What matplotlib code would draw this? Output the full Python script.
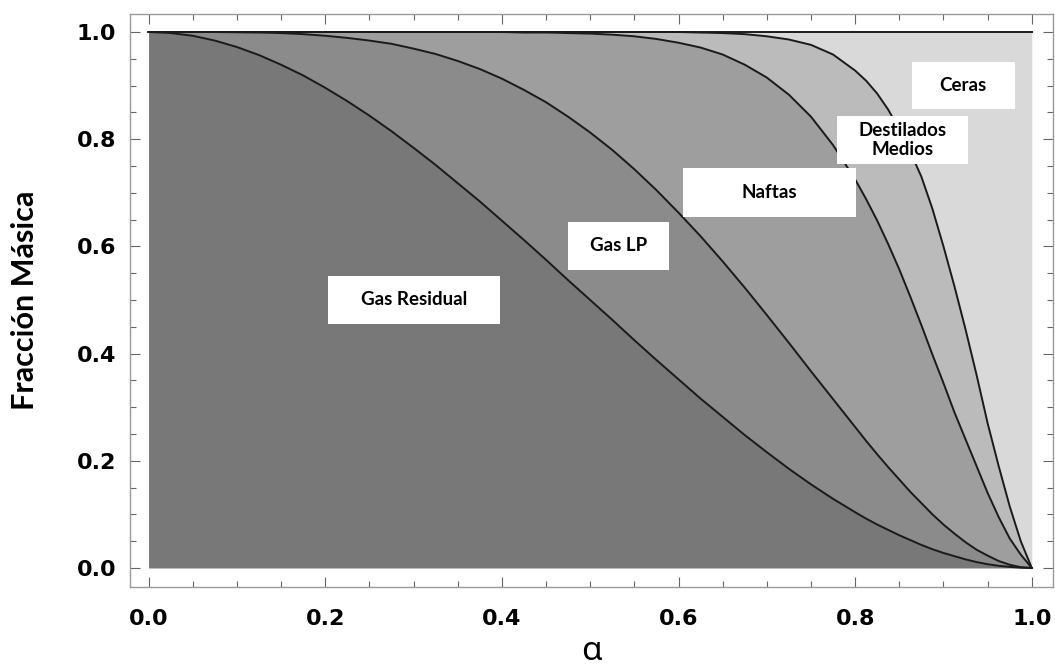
import numpy as np
import matplotlib.pyplot as plt
from matplotlib.patches import Rectangle
from matplotlib.ticker import MultipleLocator

# alpha values (x axis) and cumulative mass fraction boundaries
alpha = [0.0, 0.025, 0.05, 0.075, 0.1, 0.125, 0.15, 0.175, 0.2, 0.225, 0.25,
         0.275, 0.3, 0.325, 0.35, 0.375, 0.4, 0.425, 0.45, 0.475, 0.5, 0.525,
         0.55, 0.575, 0.6, 0.625, 0.65, 0.675, 0.7, 0.725, 0.75, 0.775, 0.8,
         0.8125, 0.825, 0.8375, 0.85, 0.8625, 0.875, 0.8875, 0.9, 0.9125,
         0.925, 0.9375, 0.95, 0.9625, 0.975, 0.9875, 1.0]

gas_residual = [1.0, 0.998, 0.993, 0.984, 0.972, 0.957, 0.939, 0.919, 0.896, 0.871,
                0.844, 0.815, 0.784, 0.752, 0.718, 0.684, 0.648, 0.612, 0.575, 0.537,
                0.500, 0.463, 0.425, 0.388, 0.352, 0.316, 0.282, 0.248, 0.216, 0.185,
                0.156, 0.129, 0.104,
                0.092, 0.081, 0.071, 0.061, 0.052, 0.043, 0.035, 0.028, 0.022, 0.016,
                0.011, 0.007, 0.004, 0.002, 0.0005, 0.0]

gas_lp = [1.0, 1.0, 1.0, 1.0, 0.9995, 0.999, 0.998, 0.996, 0.993, 0.989,
          0.984, 0.978, 0.969, 0.959, 0.946, 0.931, 0.913, 0.892, 0.869, 0.842,
          0.8125, 0.780, 0.744, 0.705, 0.663, 0.619, 0.572, 0.523, 0.472, 0.420,
          0.367, 0.315, 0.263,
          0.237, 0.212, 0.188, 0.165, 0.142, 0.121, 0.100, 0.081, 0.064, 0.048,
          0.034, 0.023, 0.013, 0.006, 0.0015, 0.0]

naftas = [1.0, 1.0, 1.0, 1.0, 1.0, 1.0, 1.0, 1.0, 1.0, 1.0,
          1.0, 1.0, 1.0, 1.0, 1.0, 1.0, 1.0, 0.999, 0.999, 0.998,
          0.997, 0.995, 0.992, 0.987, 0.980, 0.971, 0.958, 0.939, 0.915, 0.883,
          0.842, 0.789, 0.725,
          0.688, 0.648, 0.604, 0.557, 0.506, 0.453, 0.398, 0.345, 0.290, 0.240,
          0.190, 0.140, 0.095, 0.055, 0.025, 0.0]

destilados = [1.0, 1.0, 1.0, 1.0, 1.0, 1.0, 1.0, 1.0, 1.0, 1.0,
              1.0, 1.0, 1.0, 1.0, 1.0, 1.0, 1.0, 1.0, 1.0, 1.0,
              1.0, 1.0, 1.0, 1.0, 1.0, 0.999, 0.998, 0.996, 0.992, 0.986,
              0.976, 0.958, 0.928,
              0.909, 0.885, 0.855, 0.818, 0.776, 0.730, 0.670, 0.600, 0.525, 0.445,
              0.360, 0.270, 0.190, 0.115, 0.050, 0.0]

total = [1.0] * len(alpha)

boundaries = [gas_residual, gas_lp, naftas, destilados, total]
fills = ['#787878', '#8b8b8b', '#9e9e9e', '#bbbbbb', '#d9d9d9']

# region labels: text, box (x0, y0, x1, y1) in data units
labels = [
    ('Gas Residual', (0.203, 0.455, 0.398, 0.545)),
    ('Gas LP', (0.475, 0.556, 0.589, 0.646)),
    ('Naftas', (0.605, 0.655, 0.801, 0.746)),
    ('Destilados\nMedios', (0.779, 0.754, 0.928, 0.843)),
    ('Ceras', (0.864, 0.856, 0.981, 0.944)),
]

fig = plt.figure(figsize=(10.55, 6.66), dpi=100)
ax = fig.add_axes([130 / 1055, 1 - 587 / 666, (1053 - 130) / 1055, (587 - 14) / 666])

lower = [0.0] * len(alpha)
for upper, col in zip(boundaries, fills):
    ax.fill_between(alpha, lower, upper, color=col, linewidth=0)
    lower = upper

for b in boundaries:
    ax.plot(alpha, b, color='#1a1a1a', lw=1.4, solid_joinstyle='round')

for txt, (x0, y0, x1, y1) in labels:
    ax.add_patch(Rectangle((x0, y0), x1 - x0, y1 - y0, facecolor='white',
                           edgecolor='none', zorder=3))
    ax.text((x0 + x1) / 2, (y0 + y1) / 2, txt, ha='center', va='center',
            fontsize=13.5, fontweight='bold', family='Lato', linespacing=1.15,
            zorder=4)

ax.set_xlim(-0.021, 1.024)
ax.set_ylim(-0.0355, 1.0336)

ax.xaxis.set_major_locator(MultipleLocator(0.2))
ax.xaxis.set_minor_locator(MultipleLocator(0.05))
ax.yaxis.set_major_locator(MultipleLocator(0.2))
ax.yaxis.set_minor_locator(MultipleLocator(0.05))
ax.xaxis.set_major_formatter(lambda v, p: f'{v:.1f}')
ax.yaxis.set_major_formatter(lambda v, p: f'{v:.1f}')

ax.tick_params(which='both', direction='in', top=True, right=True,
               color='#666666', width=0.8)
ax.tick_params(which='major', length=7)
ax.tick_params(which='minor', length=4)
ax.tick_params(axis='x', pad=16)
ax.tick_params(axis='y', pad=10)
for lab in ax.get_xticklabels() + ax.get_yticklabels():
    lab.set_fontsize(16)
    lab.set_fontweight('bold')
    lab.set_family('DejaVu Sans')

for sp in ax.spines.values():
    sp.set_color('#9a9a9a')
    sp.set_linewidth(1.0)

ax.set_xlabel('α', fontsize=24, family='Noto Sans', labelpad=4)
ax.set_ylabel('Fracción Másica', fontsize=22, fontweight='bold', family='Lato',
              labelpad=27)

fig.savefig('out.png', dpi=100)
